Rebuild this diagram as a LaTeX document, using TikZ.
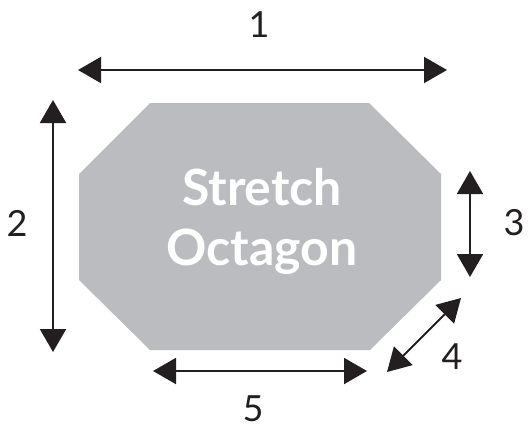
\documentclass[tikz,border=0pt]{standalone}
\usepackage{fontspec}
\setmainfont{Lato}
\usetikzlibrary{arrows.meta}
\definecolor{octfill}{RGB}{187,188,191}
\definecolor{arrowblack}{RGB}{35,31,32}
\begin{document}
\begin{tikzpicture}[x=1pt,y=-1pt,
  dimarrow/.style={draw=arrowblack,line width=2pt,{Triangle[length=23pt,width=26pt]}-{Triangle[length=23pt,width=26pt]}},
  numlabel/.style={font=\fontsize{36}{40}\selectfont,text=arrowblack,inner sep=0pt},
  octtext/.style={font=\fontsize{50}{60}\selectfont\bfseries,text=white,align=center,inner sep=0pt}]
\useasboundingbox (0,0) rectangle (529,428);
% octagon
\fill[octfill] (150,103) -- (369,103) -- (441,174) -- (441,280) -- (370,350) -- (150,350) -- (79,280) -- (79,174) -- cycle;
\node[octtext] (title) at (262,221) {Stretch\\Octagon};
% arrow end points
\coordinate (a1s) at (78,70);  \coordinate (a1e) at (447,70);
\coordinate (a2s) at (53,100); \coordinate (a2e) at (53,352);
\coordinate (a3s) at (470,171); \coordinate (a3e) at (470,277);
\coordinate (a4s) at (461,298); \coordinate (a4e) at (387,372);
\coordinate (a5s) at (153,371); \coordinate (a5e) at (367,371);
\draw[dimarrow] (a1s) -- (a1e);
\draw[dimarrow] (a2s) -- (a2e);
\draw[dimarrow] (a3s) -- (a3e);
\draw[dimarrow] (a4s) -- (a4e);
\draw[dimarrow] (a5s) -- (a5e);
\node[numlabel] (l1) at (259,25) {1};
\node[numlabel] (l2) at (17,223) {2};
\node[numlabel] (l3) at (514,223) {3};
\node[numlabel] (l4) at (452,357) {4};
\node[numlabel] (l5) at (253,409) {5};
\end{tikzpicture}
\end{document}
